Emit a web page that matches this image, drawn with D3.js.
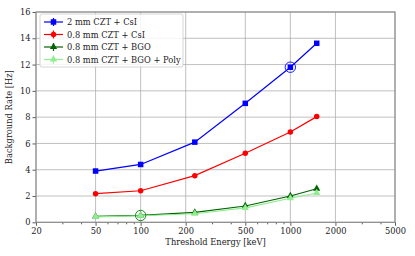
<!doctype html>
<html>
<head>
  <meta charset="utf-8">
  <title>Background rate vs threshold</title>
  <script src="https://d3js.org/d3.v7.min.js"></script>
  <style>
    body { margin: 0; background: #fff; }
    svg { display: block; font-family: "DejaVu Serif", serif; }
    .grid line { stroke: #b0b0b0; stroke-width: 0.8; }
  </style>
</head>
<body>
  <div id="chart"></div>
  <script>
    // data
    var energies = [50, 100, 230, 500, 1000, 1500];
    var rate2mmCsI = [3.9, 4.4, 6.1, 9.05, 11.8, 13.62];
    var rate08CsI = [2.18, 2.4, 3.55, 5.25, 6.87, 8.04];
    var rate08BGO = [0.45, 0.53, 0.75, 1.24, 2.0, 2.55];
    var rate08BGOPoly = [0.42, 0.5, 0.65, 1.1, 1.83, 2.23];
    var seriesNames = ["2 mm CZT + CsI", "0.8 mm CZT + CsI", "0.8 mm CZT + BGO", "0.8 mm CZT + BGO + Poly"];
    var xTicks = [20, 50, 100, 200, 500, 1000, 2000, 5000];
    var yTicks = [0, 2, 4, 6, 8, 10, 12, 14, 16];
    // highlighted points (circled)
    var circled = [{ e: 1000, v: 11.8, color: "#0000ff" }, { e: 100, v: 0.52, color: "#008000" }];

    var width = 415, height = 256;
    var plotLeft = 36, plotRight = 395, plotTop = 12, plotBottom = 222.3;
    var fontSize = 8.3;

    var series = [
      { name: seriesNames[0], values: rate2mmCsI, color: "#0000ff", marker: "square" },
      { name: seriesNames[1], values: rate08CsI, color: "#ff0000", marker: "circle" },
      { name: seriesNames[2], values: rate08BGO, color: "#006400", marker: "triangle" },
      { name: seriesNames[3], values: rate08BGOPoly, color: "#90ee90", marker: "triangle" }
    ];

    var svg = d3.select("#chart").append("svg")
      .attr("width", width)
      .attr("height", height);

    var x = d3.scaleLog().domain([20, 5000]).range([plotLeft, plotRight]);
    var y = d3.scaleLinear().domain([0, 16]).range([plotBottom, plotTop]);

    // grid
    var grid = svg.append("g").attr("class", "grid");
    grid.selectAll("line.v").data(xTicks).enter().append("line")
      .attr("x1", function(d) { return x(d); })
      .attr("x2", function(d) { return x(d); })
      .attr("y1", plotTop).attr("y2", plotBottom);
    grid.selectAll("line.h").data(yTicks).enter().append("line")
      .attr("y1", function(d) { return y(d); })
      .attr("y2", function(d) { return y(d); })
      .attr("x1", plotLeft).attr("x2", plotRight);

    // minor ticks on the log axis
    var minor = [];
    [10, 100, 1000].forEach(function(dec) {
      for (var k = 2; k < 10; k++) {
        var v = dec * k;
        if (v > 20 && v < 5000 && xTicks.indexOf(v) < 0) minor.push(v);
      }
    });

    svg.append("g")
      .attr("transform", "translate(0," + plotBottom + ")")
      .call(d3.axisBottom(x).tickValues(xTicks).tickFormat(d3.format("d")).tickSize(3.5).tickPadding(2));
    svg.append("g")
      .attr("transform", "translate(0," + plotBottom + ")")
      .call(d3.axisBottom(x).tickValues(minor).tickFormat("").tickSize(2));
    svg.append("g")
      .attr("transform", "translate(" + plotLeft + ",0)")
      .call(d3.axisLeft(y).tickValues(yTicks).tickSize(3.5).tickPadding(2));

    svg.selectAll(".tick text").attr("font-size", fontSize).attr("fill", "#222")
      .attr("font-family", "DejaVu Serif, serif");
    svg.selectAll(".tick line").attr("stroke", "#333").attr("stroke-width", 0.8);
    svg.selectAll(".domain").remove();

    // frame
    svg.append("rect")
      .attr("x", plotLeft).attr("y", plotTop)
      .attr("width", plotRight - plotLeft).attr("height", plotBottom - plotTop)
      .attr("fill", "none").attr("stroke", "#888").attr("stroke-width", 1.1);

    // axis labels
    svg.append("text")
      .attr("x", (plotLeft + plotRight) / 2).attr("y", 245)
      .attr("text-anchor", "middle").attr("font-size", fontSize).attr("fill", "#222")
      .text("Threshold Energy [keV]");
    svg.append("text")
      .attr("transform", "translate(12," + ((plotTop + plotBottom) / 2) + ")rotate(-90)")
      .attr("text-anchor", "middle").attr("font-size", fontSize).attr("fill", "#222")
      .text("Background Rate [Hz]");

    function drawMarker(g, type, color, size) {
      if (type === "square") {
        g.append("rect").attr("x", -size / 2).attr("y", -size / 2)
          .attr("width", size).attr("height", size).attr("fill", color);
      } else if (type === "circle") {
        g.append("circle").attr("r", size / 2).attr("fill", color);
      } else {
        g.append("path").attr("d", d3.symbol().type(d3.symbolTriangle).size(size * size * 0.75)())
          .attr("fill", color);
      }
    }

    var line = d3.line()
      .x(function(d, i) { return x(energies[i]); })
      .y(function(d) { return y(d); });

    series.forEach(function(s) {
      svg.append("path")
        .attr("d", line(s.values))
        .attr("fill", "none")
        .attr("stroke", s.color)
        .attr("stroke-width", 1.2);
      s.values.forEach(function(v, i) {
        var g = svg.append("g").attr("transform", "translate(" + x(energies[i]) + "," + y(v) + ")");
        drawMarker(g, s.marker, s.color, 5.5);
      });
    });

    circled.forEach(function(c) {
      svg.append("circle")
        .attr("cx", x(c.e)).attr("cy", y(c.v)).attr("r", 5.2)
        .attr("fill", "none").attr("stroke", c.color).attr("stroke-width", 0.9);
    });

    // legend
    var legend = svg.append("g").attr("transform", "translate(40,14)");
    legend.append("rect")
      .attr("width", 143).attr("height", 53).attr("rx", 2)
      .attr("fill", "#fff").attr("fill-opacity", 0.85)
      .attr("stroke", "#ccc").attr("stroke-width", 0.8);
    series.forEach(function(s, i) {
      var row = legend.append("g").attr("transform", "translate(0," + (8 + i * 12.5) + ")");
      row.append("line").attr("x1", 4).attr("x2", 23).attr("stroke", s.color).attr("stroke-width", 1.2);
      row.append("line").attr("x1", 13.5).attr("x2", 13.5).attr("y1", -4).attr("y2", 4)
        .attr("stroke", s.color).attr("stroke-width", 1.2);
      var m = row.append("g").attr("transform", "translate(13.5,0)");
      drawMarker(m, s.marker, s.color, 5.5);
      row.append("text").attr("x", 27).attr("y", 3)
        .attr("font-size", fontSize).attr("fill", "#222").text(s.name);
    });
  </script>
</body>
</html>
